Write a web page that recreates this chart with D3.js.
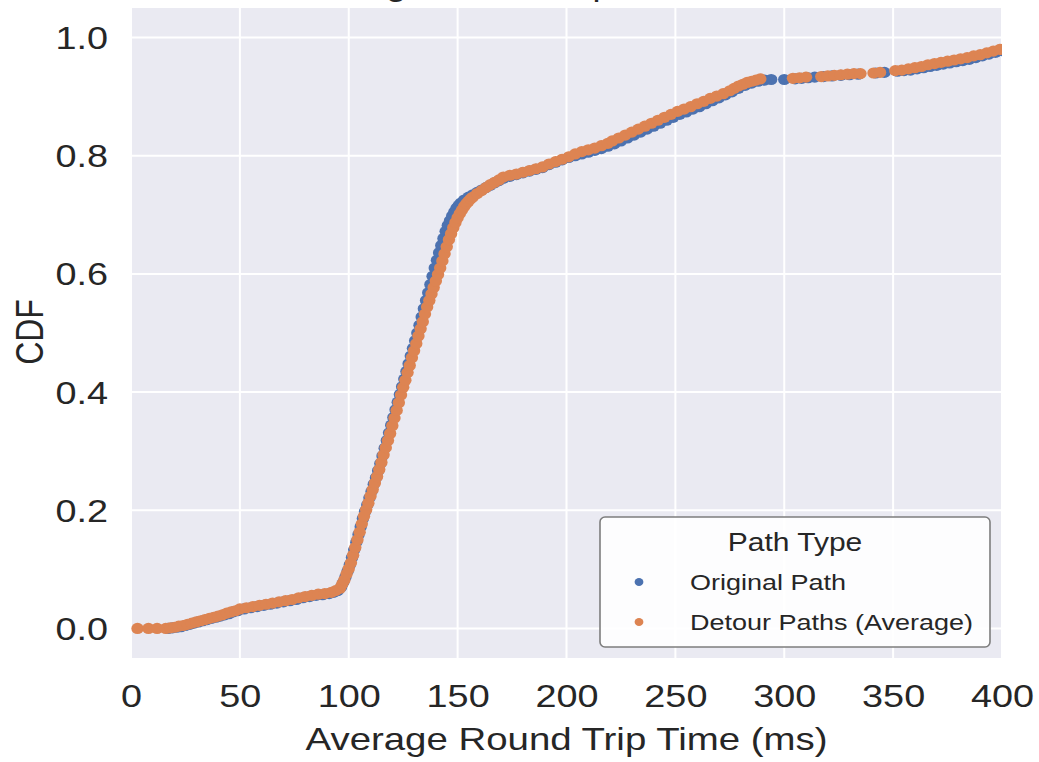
<!DOCTYPE html>
<html><head><meta charset="utf-8">
<script src="https://cdn.jsdelivr.net/npm/d3@7"></script>
<style>
html,body{margin:0;padding:0;background:#fff;}
svg{display:block;}
text{font-family:"Liberation Sans",Arial,sans-serif;fill:#262626;}
</style>
</head><body>
<svg id="chart" width="1039" height="762"></svg>
<script>
// ---------- data ----------
const seriesNames = ["Original Path", "Detour Paths (Average)"];
const chartTitle = "Average Round Trip Time CDF";
const xLabel = "Average Round Trip Time (ms)";
const yLabel = "CDF";
const legendTitle = "Path Type";
const xTicks = [0, 50, 100, 150, 200, 250, 300, 350, 400];
const yTicks = [0.0, 0.2, 0.4, 0.6, 0.8, 1.0];

// [average RTT (ms), CDF]
const originalPath = [
[17,0.000],[19,0.001],[21,0.002],[23,0.003],[25,0.005],[27,0.007],[29,0.009],[31,0.011],[33,0.013],[35,0.015],
[37,0.017],[39,0.019],[41,0.021],[43,0.023],[45,0.025],[47,0.028],[49,0.030],[52,0.033],[55,0.035],[58,0.037],
[61,0.039],[64,0.041],[67,0.043],[70,0.045],[73,0.047],[76,0.049],[79,0.052],[82,0.054],[85,0.056],[88,0.057],
[91,0.059],[93,0.061],[95,0.064],[96.5,0.070],[97.5,0.078],[98.5,0.087],[99.5,0.097],[100.5,0.108],[101.5,0.120],[102.5,0.133],
[103.5,0.146],[104.5,0.159],[105.5,0.172],[106.5,0.186],[107.5,0.198],[108.5,0.209],[109.5,0.221],[110.5,0.232],[111.5,0.244],[112.5,0.255],
[113.5,0.267],[114.5,0.279],[115.5,0.292],[116.5,0.305],[117.5,0.318],[118.5,0.331],[119.5,0.344],[120.5,0.357],[121.5,0.370],[122.5,0.383],
[123.5,0.396],[124.5,0.409],[125.5,0.422],[126.5,0.435],[127.5,0.448],[128.5,0.461],[129.5,0.474],[130.5,0.487],[131.5,0.500],[132.5,0.513],
[133.5,0.527],[134.5,0.541],[135.5,0.555],[136.5,0.568],[137.5,0.582],[138.5,0.596],[139.5,0.610],[140.5,0.623],[141.5,0.636],[142.5,0.648],
[143.5,0.660],[144.5,0.672],[145.5,0.682],[146.5,0.690],[147.5,0.698],[148.5,0.705],[149.5,0.711],[150.5,0.716],[151.5,0.720],[153,0.725],
[155,0.730],[157,0.734],[159,0.738],[161,0.742],[163,0.746],[165,0.750],[167,0.754],[169,0.758],[171,0.762],[174,0.765],[177,0.768],
[180,0.771],[183,0.774],[186,0.777],[189,0.780],[192,0.785],[195,0.789],[198,0.793],[201,0.797],[204,0.800],[207,0.803],
[210,0.806],[213,0.809],[216,0.812],[219,0.816],[222,0.820],[225,0.825],[228,0.830],[231,0.835],[234,0.840],[237,0.845],
[240,0.850],[243,0.855],[246,0.860],[249,0.865],[252,0.870],[255,0.874],[258,0.879],[261,0.883],[264,0.888],[267,0.893],
[270,0.898],[273,0.903],[276,0.908],[279,0.914],[282,0.919],[285,0.923],[288,0.926],[291,0.928],[294,0.929],[300,0.929],
[305,0.930],[308,0.931],[311,0.932],[314,0.933],[318,0.934],[322,0.935],[326,0.936],[330,0.937],[334,0.938],[342,0.940],
[346,0.941],[352,0.943],[355,0.944],[358,0.945],[361,0.947],[364,0.949],[367,0.951],[370,0.953],[373,0.955],[376,0.957],
[379,0.959],[382,0.961],[385,0.963],[388,0.966],[391,0.969],[394,0.972],[397,0.975],[400,0.978],[403,0.981]
];

const detourPaths = [
[3,0.000],[8,0.000],[12,0.000],[16,0.000],[18,0.001],[20,0.002],[22,0.004],[24,0.005],[26,0.007],[28,0.009],
[30,0.011],[32,0.013],[34,0.015],[36,0.017],[38,0.019],[40,0.021],[42,0.023],[44,0.026],[46,0.028],[48,0.030],
[50,0.033],[53,0.035],[56,0.037],[59,0.039],[62,0.041],[65,0.043],[68,0.045],[71,0.047],[74,0.049],[77,0.052],
[80,0.054],[83,0.056],[86,0.058],[89,0.059],[92,0.061],[94,0.064],[96,0.068],[97,0.075],[98,0.082],[99,0.092],
[100,0.101],[101,0.111],[102,0.124],[103,0.137],[104,0.150],[105,0.163],[106,0.177],[107,0.190],[108,0.201],[109,0.212],
[110,0.224],[111,0.235],[112,0.246],[113,0.257],[114,0.269],[115,0.281],[116,0.294],[117,0.306],[118,0.318],[119,0.330],
[120,0.343],[121,0.356],[122,0.369],[123,0.382],[124,0.395],[125,0.408],[126,0.420],[127,0.433],[128,0.445],[129,0.458],
[130,0.470],[131,0.482],[132,0.495],[133,0.507],[134,0.519],[135,0.532],[136,0.544],[137,0.555],[138,0.566],[139,0.577],
[140,0.588],[141,0.599],[142,0.610],[143,0.622],[144,0.634],[145,0.646],[146,0.658],[147,0.668],[148,0.678],[149,0.687],
[150,0.695],[151,0.702],[152,0.708],[153,0.714],[154,0.719],[155,0.723],[156,0.727],[157,0.730],[159,0.736],[161,0.741],
[163,0.746],[165,0.751],[167,0.755],[169,0.759],[171,0.764],[174,0.767],[177,0.769],[180,0.772],[183,0.775],[186,0.778],
[189,0.781],[192,0.786],[195,0.790],[198,0.794],[201,0.798],[204,0.803],[207,0.807],[210,0.810],[213,0.813],[216,0.817],
[219,0.821],[221,0.825],[224,0.830],[227,0.835],[230,0.840],[233,0.845],[236,0.850],[239,0.855],[242,0.860],[245,0.865],
[248,0.870],[251,0.875],[254,0.879],[257,0.883],[260,0.888],[263,0.892],[266,0.897],[269,0.901],[272,0.905],[275,0.910],
[277,0.914],[279,0.918],[281,0.921],[283,0.924],[285,0.926],[287,0.928],[289,0.930],[304,0.931],[307,0.932],[310,0.933],
[317,0.934],[320,0.935],[323,0.936],[326,0.937],[329,0.938],[332,0.939],[335,0.939],[341,0.940],[344,0.941],[351,0.944],
[354,0.945],[357,0.947],[360,0.949],[363,0.951],[366,0.954],[369,0.956],[372,0.958],[375,0.960],[378,0.962],[381,0.964],
[384,0.966],[387,0.969],[390,0.971],[393,0.974],[396,0.977],[399,0.980],[402,0.983]
];

// ---------- styles / layout ----------
const colors = ["#4C72B0", "#DD8452"];
const SX = 1.2; // horizontal text stretch of the reference
const plot = {left: 131, right: 1002, top: 8, bottom: 658};

const svg = d3.select("#chart");
const x = d3.scaleLinear().domain([0, 400]).range([plot.left, plot.right]);
const y = d3.scaleLinear().domain([-0.05, 1.05]).range([plot.bottom, plot.top]);

// title (mostly above the top edge of the page, as in the reference)
svg.append("text")
  .attr("transform", `translate(293,-4) scale(${SX},1)`)
  .attr("font-size", 30)
  .text(chartTitle);

// background
svg.append("rect")
  .attr("x", plot.left).attr("y", plot.top)
  .attr("width", plot.right - plot.left).attr("height", plot.bottom - plot.top)
  .attr("fill", "#EAEAF2");

// grid
const grid = svg.append("g").attr("stroke", "#fff").attr("stroke-width", 2);
grid.selectAll(".gx").data(xTicks).join("line")
  .attr("x1", d => x(d)).attr("x2", d => x(d))
  .attr("y1", plot.top).attr("y2", plot.bottom);
grid.selectAll(".gy").data(yTicks).join("line")
  .attr("x1", plot.left).attr("x2", plot.right)
  .attr("y1", d => y(d)).attr("y2", d => y(d));

// axes (no tick marks, seaborn style)
const xAxis = svg.append("g")
  .attr("transform", `translate(0,${plot.bottom})`)
  .call(d3.axisBottom(x).tickValues(xTicks).tickSize(0).tickPadding(0).tickFormat(d3.format("d")));
xAxis.select(".domain").remove();
xAxis.selectAll("text")
  .attr("y", 0).attr("dy", null)
  .attr("transform", `translate(0,49) scale(${SX},1)`)
  .attr("font-size", 31.5).attr("font-family", null).style("fill", "#262626");

const yAxis = svg.append("g")
  .attr("transform", `translate(${plot.left},0)`)
  .call(d3.axisLeft(y).tickValues(yTicks).tickSize(0).tickPadding(0).tickFormat(d3.format(".1f")));
yAxis.select(".domain").remove();
yAxis.selectAll("text")
  .attr("x", 0).attr("dy", null).attr("text-anchor", "end")
  .attr("transform", `translate(-23,11) scale(${SX},1)`)
  .attr("font-size", 31.5).attr("font-family", null).style("fill", "#262626");

// axis labels
svg.append("text")
  .attr("transform", `translate(${(plot.left + plot.right) / 2},750) scale(${SX},1)`)
  .attr("text-anchor", "middle").attr("font-size", 32)
  .text(xLabel);
svg.append("text")
  .attr("transform", `translate(43,332) rotate(-90) scale(1,${SX})`)
  .attr("text-anchor", "middle").attr("font-size", 32)
  .text(yLabel);

// points
svg.append("clipPath").attr("id", "plotclip").append("rect")
  .attr("x", plot.left).attr("y", plot.top)
  .attr("width", plot.right - plot.left).attr("height", plot.bottom - plot.top);
const pts = svg.append("g").attr("clip-path", "url(#plotclip)");
[originalPath, detourPaths].forEach((series, i) => {
  pts.append("g").selectAll("ellipse").data(series).join("ellipse")
    .attr("cx", d => x(d[0])).attr("cy", d => y(d[1]))
    .attr("rx", 6.2).attr("ry", 5.6)
    .attr("fill", colors[i]);
});

// legend
const lg = svg.append("g");
lg.append("rect")
  .attr("x", 600).attr("y", 517).attr("width", 390).attr("height", 130)
  .attr("rx", 5).attr("fill", "#fff").attr("fill-opacity", 0.9)
  .attr("stroke", "#7d7d7d").attr("stroke-width", 1.6);
lg.append("text")
  .attr("transform", `translate(795,551) scale(${SX},1)`)
  .attr("text-anchor", "middle").attr("font-size", 25)
  .text(legendTitle);
seriesNames.forEach((name, i) => {
  const cy = 582 + i * 40;
  lg.append("ellipse").attr("cx", 639).attr("cy", cy).attr("rx", 4.4).attr("ry", 4)
    .attr("fill", colors[i]);
  lg.append("text")
    .attr("transform", `translate(690,${cy + 8}) scale(${SX},1)`)
    .attr("font-size", 22.5)
    .text(name);
});
</script>
</body></html>
